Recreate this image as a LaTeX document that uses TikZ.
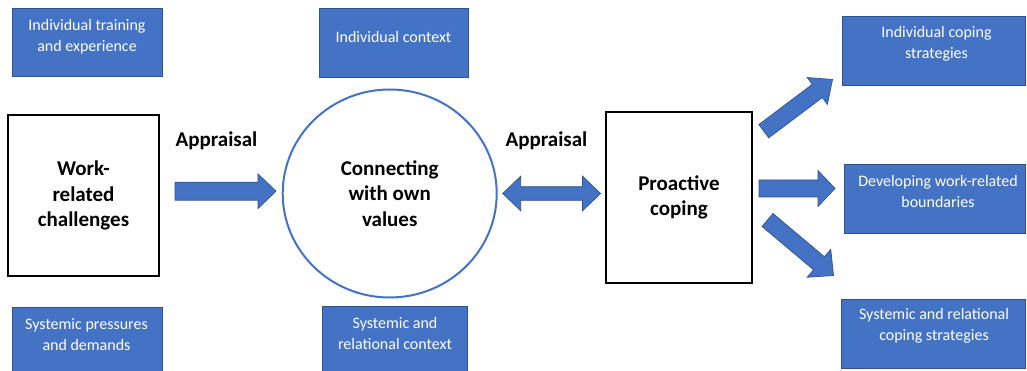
\documentclass[tikz,border=0pt]{standalone}
\usepackage{fontspec}
\setmainfont{Carlito}
\usetikzlibrary{calc,shapes.geometric}
\definecolor{obl}{HTML}{4472C4}
\definecolor{obd}{HTML}{2F528F}
% block arrow: #1 name, #2 tail, #3 tip, #4 shaft half width, #5 head half width, #6 head length
\newcommand{\fatarrow}[6]{%
  \coordinate (#1-h) at ($(#3)!#6!(#2)$);
  \path[blockarrow] ($(#2)!#4!90:(#3)$) -- ($(#1-h)!#4!90:(#3)$) -- ($(#1-h)!#5!90:(#3)$) -- (#3)
    -- ($(#1-h)!#5!-90:(#3)$) -- ($(#1-h)!#4!-90:(#3)$) -- ($(#2)!#4!-90:(#3)$) -- cycle;}
% double block arrow: #1 name, #2 tip one, #3 tip two, #4 shaft half, #5 head half, #6 head length
\newcommand{\fatdarrow}[6]{%
  \coordinate (#1-h1) at ($(#2)!#6!(#3)$);
  \coordinate (#1-h2) at ($(#3)!#6!(#2)$);
  \path[blockarrow] (#2) -- ($(#1-h1)!#5!90:(#3)$) -- ($(#1-h1)!#4!90:(#3)$) -- ($(#1-h2)!#4!-90:(#2)$)
    -- ($(#1-h2)!#5!-90:(#2)$) -- (#3) -- ($(#1-h2)!#5!90:(#2)$) -- ($(#1-h2)!#4!90:(#2)$)
    -- ($(#1-h1)!#4!-90:(#3)$) -- ($(#1-h1)!#5!-90:(#3)$) -- cycle;}
\begin{document}
\begin{tikzpicture}[x=1pt,y=-1pt,
  bbox/.style={draw=obd, fill=obl, line width=0.9pt, inner sep=0pt},
  btxt/.style={text=white, align=center, inner sep=0pt, font=\fontsize{16}{21}\selectfont},
  blackbox/.style={draw=black, line width=2.6pt, fill=white, align=center, inner sep=0pt,
    font=\fontsize{21}{25.5}\selectfont\bfseries},
  bigcirc/.style={ellipse, draw=obl, line width=2pt, fill=white, align=center, inner sep=0pt,
    font=\fontsize{21}{25.5}\selectfont\bfseries},
  lbl/.style={inner sep=0pt, font=\fontsize{21}{25.5}\selectfont\bfseries},
  blockarrow/.style={fill=obl, draw=obd, line width=0.7pt, line join=miter}]
\useasboundingbox (0,0) rectangle (1027,371);
\fill[white] (0,0) rectangle (1027,371);

% blue context boxes
\node[bbox, minimum width=150pt, minimum height=68pt] (b1) at (87.5,42.5) {};
\node[btxt] (t1) at (87,36.5) {Individual training\\and experience};
\node[bbox, minimum width=149pt, minimum height=69pt] (b2) at (393.8,43) {};
\node[btxt] (t2) at (393.5,37.5) {Individual context};
\node[bbox, minimum width=150pt, minimum height=70pt] (b3) at (87.5,342) {};
\node[btxt] (t3) at (86.5,335) {Systemic pressures\\and demands};
\node[bbox, minimum width=145pt, minimum height=70pt] (b4) at (394.5,341) {};
\node[btxt] (t4) at (395,334) {Systemic and\\relational context};
\node[bbox, minimum width=183pt, minimum height=69pt] (b5) at (933.5,50.5) {};
\node[btxt] (t5) at (936.5,43.5) {Individual coping\\strategies};
\node[bbox, minimum width=181pt, minimum height=69pt] (b6) at (934.5,198.5) {};
\node[btxt] (t6) at (938,192) {Developing work-related\\boundaries};
\node[bbox, minimum width=184pt, minimum height=69pt] (b7) at (933,333.5) {};
\node[btxt] (t7) at (934,326) {Systemic and relational\\coping strategies};

% main shapes
\node[blackbox, minimum width=151pt, minimum height=161pt] (work) at (83.5,195.5) {Work-\\related\\challenges};
\node[bigcirc, minimum width=214pt, minimum height=208pt] (values) at (389.7,193.5) {Connecting\\with own\\values};
\node[blackbox, minimum width=146pt, minimum height=171pt] (coping) at (679,197.5) {Proactive\\coping};

% labels
\node[lbl] (ap1) at (216.5,141) {Appraisal};
\node[lbl] (ap2) at (546.5,141) {Appraisal};

% arrow ends
\coordinate (a1s) at (175,191.2);
\coordinate (a1e) at (276,191.2);
\coordinate (a2s) at (502.7,193.5);
\coordinate (a2e) at (600.5,193.5);
\coordinate (a3s) at (763.8,131.2);
\coordinate (a3e) at (832.5,79.5);
\coordinate (a4s) at (759,188.5);
\coordinate (a4e) at (835,188.5);
\coordinate (a5s) at (767.5,220);
\coordinate (a5e) at (833.5,275.5);

\fatarrow{a1}{a1s}{a1e}{9pt}{17.3pt}{18pt}
\fatdarrow{a2}{a2s}{a2e}{6.8pt}{17.3pt}{18pt}
\fatarrow{a3}{a3s}{a3e}{8.3pt}{16.8pt}{19pt}
\fatarrow{a4}{a4s}{a4e}{8.5pt}{18pt}{17pt}
\fatarrow{a5}{a5s}{a5e}{8.5pt}{18.3pt}{19pt}
\end{tikzpicture}
\end{document}
